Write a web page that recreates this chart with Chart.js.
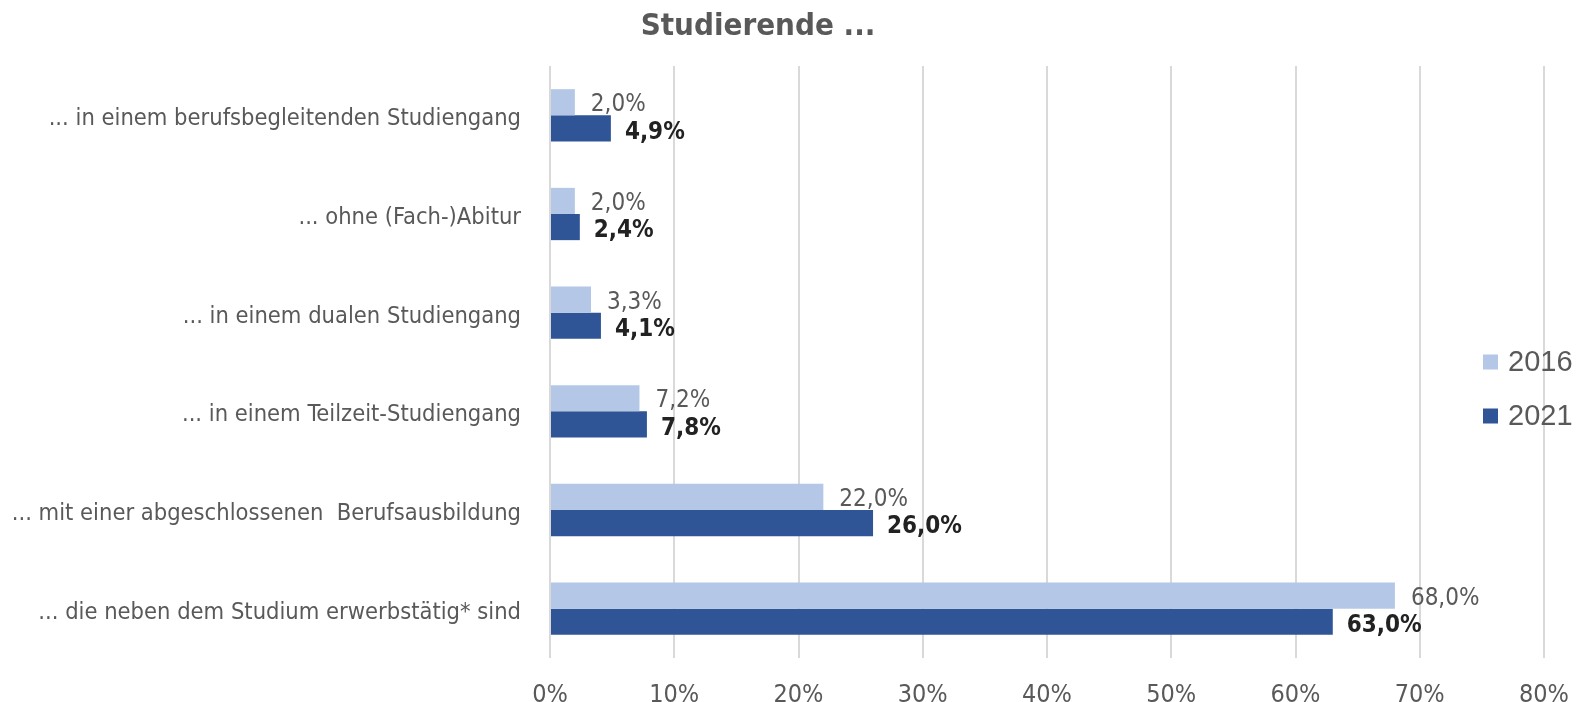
<!DOCTYPE html>
<html>
<head>
<meta charset="utf-8">
<script src="https://cdn.jsdelivr.net/npm/chart.js@4.4.1/dist/chart.umd.min.js"></script>
<style>
  body { margin: 0; background: #fff; }
  #wrap { width: 1592px; height: 702px; }
</style>
</head>
<body>
<div id="wrap"><canvas id="studGraph"></canvas></div>
<script>
const chartTitle = 'Studierende ...';
const categories = [
  '... in einem berufsbegleitenden Studiengang',
  '... ohne (Fach-)Abitur',
  '... in einem dualen Studiengang',
  '... in einem Teilzeit-Studiengang',
  '... mit einer abgeschlossenen  Berufsausbildung',
  '... die neben dem Studium erwerbstätig* sind'
];
const seriesNames = ['2016', '2021'];
const values2016 = [2.0, 2.0, 3.3, 7.2, 22.0, 68.0];
const values2021 = [4.9, 2.4, 4.1, 7.8, 26.0, 63.0];
const xTicks = [0, 10, 20, 30, 40, 50, 60, 70, 80];

const narrow = "'Liberation Sans Narrow', 'DejaVu Sans Condensed', 'Roboto Condensed', sans-serif";
const grey = '#595959';

// Titel, Legende und Werte selbst zeichnen
const extras = {
  id: 'extras',
  afterDatasetsDraw(chart) {
    const ctx = chart.ctx;
    ctx.save();
    ctx.textAlign = 'left';
    ctx.textBaseline = 'middle';
    chart.data.datasets.forEach((ds, i) => {
      const meta = chart.getDatasetMeta(i);
      ctx.font = (i === 0 ? '' : 'bold ') + '24px ' + narrow;
      ctx.fillStyle = i === 0 ? grey : '#222222';
      meta.data.forEach((bar, j) => {
        const txt = ds.data[j].toFixed(1).replace('.', ',') + '%';
        ctx.fillText(txt, bar.x + (i === 0 ? 16 : 14), bar.y + (i === 0 ? 3 : 4));
      });
    });
    ctx.restore();
  },
  afterDraw(chart) {
    const ctx = chart.ctx;
    ctx.save();
    ctx.fillStyle = grey;
    ctx.textAlign = 'center';
    ctx.textBaseline = 'middle';
    ctx.font = 'bold 31px ' + narrow;
    ctx.fillText(chartTitle, 758, 27);

    ctx.textAlign = 'left';
    ctx.font = '29px "Liberation Sans", Arial, sans-serif';
    chart.data.datasets.forEach((ds, i) => {
      const y = 362 + i * 54;
      ctx.fillStyle = ds.backgroundColor;
      ctx.fillRect(1483, y - 7.5, 15, 15);
      ctx.fillStyle = grey;
      ctx.fillText(ds.label, 1508, y + 1);
    });
    ctx.restore();
  }
};

const studConfig = {
  type: 'bar',
  data: {
    labels: categories,
    datasets: [
      { label: seriesNames[0], data: values2016, backgroundColor: '#B4C7E7' },
      { label: seriesNames[1], data: values2021, backgroundColor: '#2F5597' }
    ]
  },
  options: {
    indexAxis: 'y',
    responsive: true,
    maintainAspectRatio: false,
    animation: false,
    datasets: {
      bar: { categoryPercentage: 0.53, barPercentage: 1.0 }
    },
    layout: { padding: { top: 66, right: 48, left: 0, bottom: 0 } },
    plugins: {
      legend: { display: false },
      title: { display: false },
      tooltip: { enabled: false }
    },
    scales: {
      x: {
        min: 0,
        max: 80,
        afterBuildTicks(scale) {
          scale.ticks = xTicks.map(v => ({ value: v }));
        },
        afterFit(scale) { scale.height = 44; },
        grid: { color: '#D9D9D9', lineWidth: 2, drawTicks: false },
        border: { display: false },
        ticks: {
          padding: 22,
          color: grey,
          font: { family: narrow, size: 25 },
          callback: v => v + '%'
        }
      },
      y: {
        afterFit(scale) { scale.width = 550; },
        grid: { display: false, drawTicks: false },
        border: { display: false },
        ticks: {
          padding: 29,
          labelOffset: 4,
          color: grey,
          font: { family: narrow, size: 23.5 }
        }
      }
    }
  },
  plugins: [extras]
};

const studGraph = new Chart(document.getElementById('studGraph'), studConfig);
</script>
</body>
</html>
